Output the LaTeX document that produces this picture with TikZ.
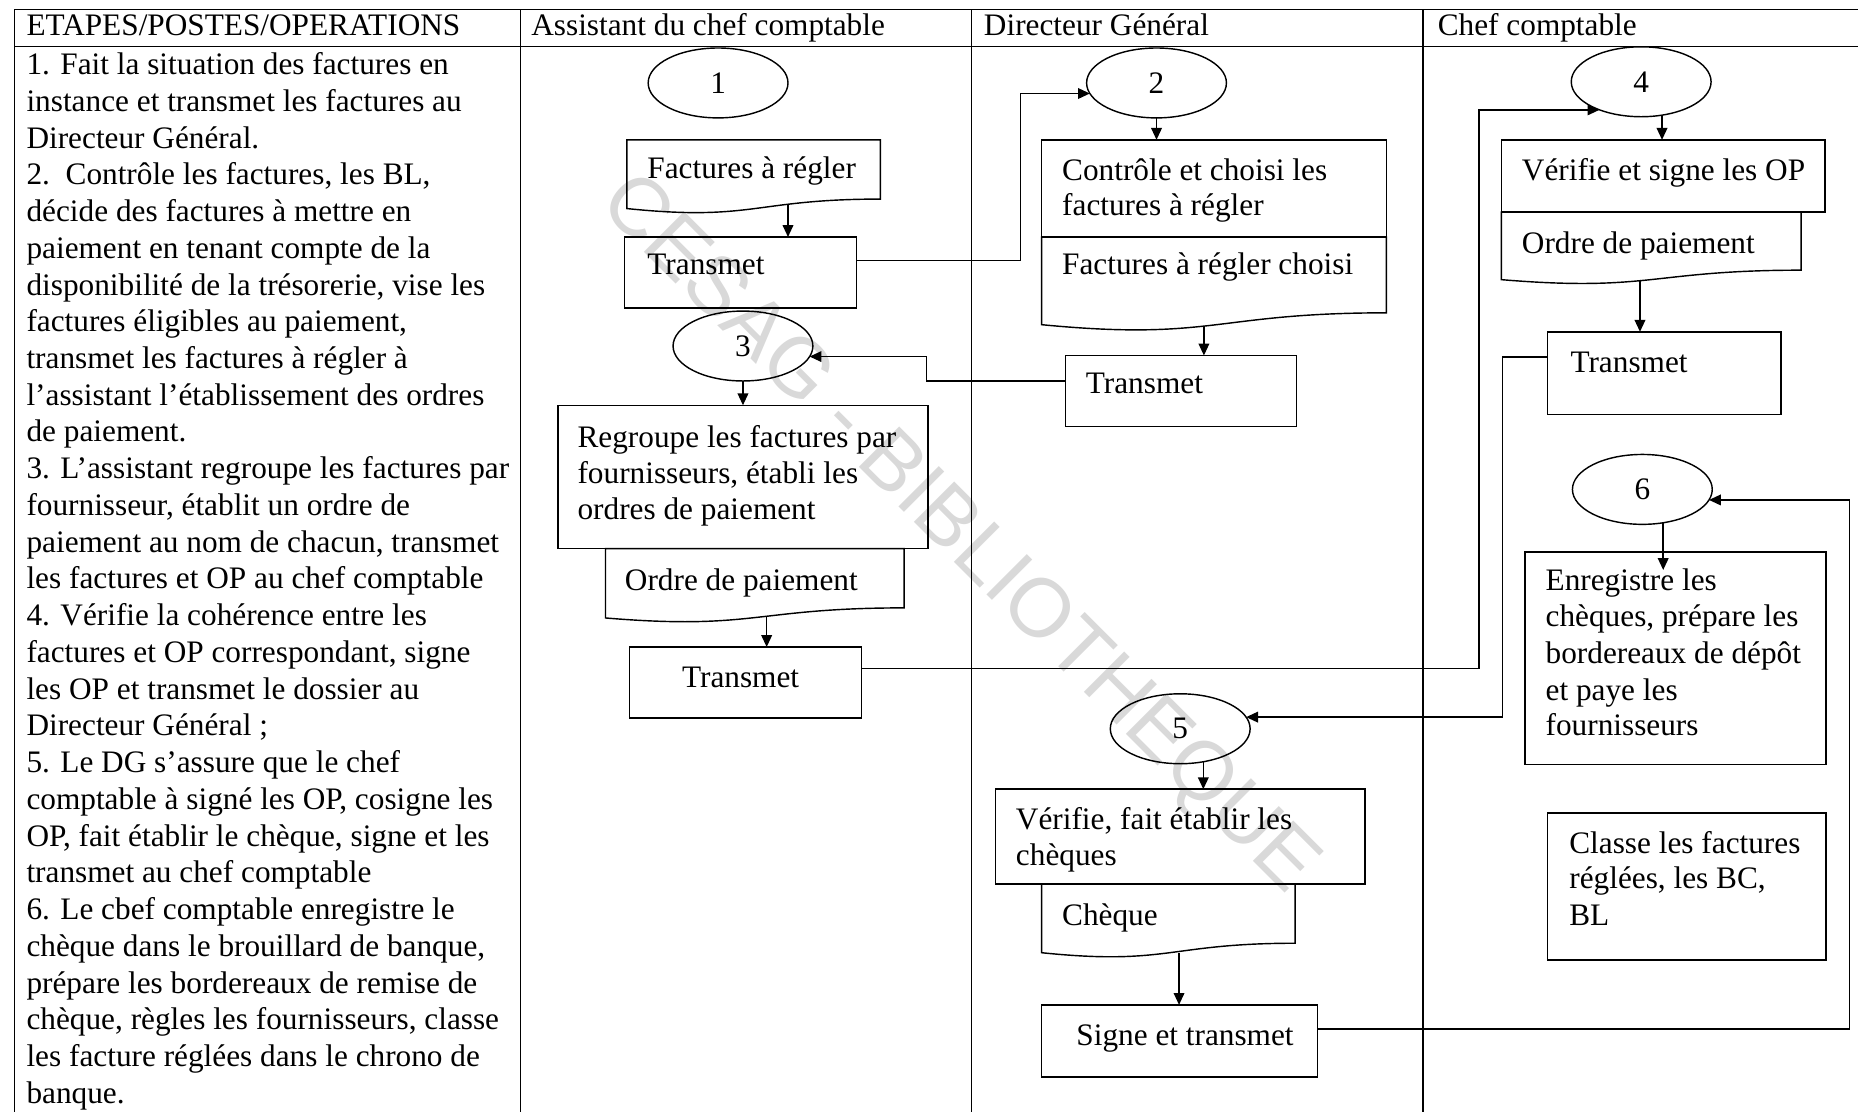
\documentclass[tikz,border=0pt]{standalone}
\usepackage{fontspec}
\setmainfont{Liberation Serif}
\setsansfont{Liberation Sans}
\usetikzlibrary{shapes.geometric,arrows.meta,fit}
\tikzset{
  line/.style={draw, line width=0.6pt},
  tbl/.style={draw, line width=0.55pt},
  boxn/.style={draw, line width=0.6pt, inner sep=0pt, outer sep=0pt},
  ell/.style={draw, ellipse, line width=0.6pt, minimum width=59pt, minimum height=29.5pt, inner sep=0pt, outer sep=0pt},
  arr/.style={draw, line width=0.6pt, -{Triangle[length=5pt,width=4.5pt]}},
  lbl/.style={anchor=base west, inner sep=0pt},
  wmark/.style={rotate=-45, text=black!15, font=\fontsize{35}{35}\selectfont\sffamily, inner sep=0pt}
}
\newcommand{\docshp}[7]{%
  \draw[line] (#2,#3) -- (#4,#3) -- (#4,#5) .. controls ({(#2+#4)/2},#5) and ({(#2+#4)/2},#7) .. (#2,#6) -- cycle;
  \node[fit={(#2,#3)(#4,#5)}, inner sep=0pt, outer sep=0pt] (#1) {};}
\begin{document}
\begin{tikzpicture}[x=0.5pt,y=-0.5pt,font=\fontsize{13.2}{15.6}\selectfont]
\useasboundingbox (0,0) rectangle (1568,938);
% watermark
\node[wmark] (wm) at (808,452) {CESAG - BIBLIOTHEQUE};
% table
\draw[tbl] (12,8) -- (1568,8);
\draw[tbl] (12,39) -- (1568,39);
\foreach \xx in {12,439,820,1201} \draw[tbl] (\xx,8) -- (\xx,938);
% headers
\node[lbl] (h1) at (22,30) {ETAPES/POSTES/OPERATIONS};
\node[lbl] (h2) at (448,30) {Assistant du chef comptable};
\node[lbl] (h3) at (830,30) {Directeur Général};
\node[lbl] (h4) at (1213,30) {Chef comptable};
% left column
\foreach \lintext [count=\i from 0] in {
 {1. Fait la situation des factures en},
 {instance et transmet les factures au},
 {Directeur Général.},
 {2.\ \ Contrôle les factures, les BL,},
 {décide des factures à mettre en},
 {paiement en tenant compte de la},
 {disponibilité de la trésorerie, vise les},
 {factures éligibles au paiement,},
 {transmet les factures à régler à},
 {l’assistant l’établissement des ordres},
 {de paiement.},
 {3. L’assistant regroupe les factures par},
 {fournisseur, établit un ordre de},
 {paiement au nom de chacun, transmet},
 {les factures et OP au chef comptable},
 {4. Vérifie la cohérence entre les},
 {factures et OP correspondant, signe},
 {les OP et transmet le dossier au},
 {Directeur Général ;},
 {5. Le DG s’assure que le chef},
 {comptable à signé les OP, cosigne les},
 {OP, fait établir le chèque, signe et les},
 {transmet au chef comptable},
 {6. Le cbef comptable enregistre le},
 {chèque dans le brouillard de banque,},
 {prépare les bordereaux de remise de},
 {chèque, règles les fournisseurs, classe},
 {les facture réglées dans le chrono de},
 {banque.}}
 \node[lbl] (L\i) at (22,{63+31.0*\i}) {\lintext};
% Assistant column
\node[ell] (e1) at (606,70) {1};
\docshp{d1}{529}{118}{743}{168}{176}{187}
\node[lbl] (t1) at (546,151) {Factures à régler};
\node[boxn, fit={(527,200)(723,260)}] (tr1) {};
\node[lbl] (t2) at (546,232) {Transmet};
\node[ell] (e3) at (627,292) {3};
\node[boxn, fit={(471,342)(783,463)}] (rg) {};
\node[lbl] (t3) at (487,378) {Regroupe les factures par};
\node[lbl] (t4) at (487,408) {fournisseurs, établi les};
\node[lbl] (t5) at (487,438) {ordres de paiement};
\docshp{d3}{511}{463}{763}{513}{521.5}{532}
\node[lbl] (t6) at (527,498) {Ordre de paiement};
\node[boxn, fit={(531,546)(727,606)}] (tr3) {};
\node[anchor=base, inner sep=0pt] (t7) at (625,580) {Transmet};
% Directeur General
\node[ell] (e2) at (976,70) {2};
\node[boxn, fit={(879,118)(1170,200)}] (ctl) {};
\node[lbl] (t8) at (896,152) {Contrôle et choisi les};
\node[lbl] (t9) at (896,182) {factures à régler};
\docshp{d2}{879}{200}{1170}{264}{274}{288}
\node[lbl] (t10) at (896,232) {Factures à régler choisi};
\node[boxn, fit={(899,300)(1094,360)}] (tr2) {};
\node[lbl] (t11) at (916,332) {Transmet};
\node[ell] (e5) at (996,615) {5};
\node[boxn, fit={(840,666)(1152,746)}] (vf) {};
\node[lbl] (t12) at (857,700) {Vérifie, fait établir les};
\node[lbl] (t13) at (857,730) {chèques};
\docshp{d5}{879}{746}{1093}{796}{804}{815}
\node[lbl] (t14) at (896,781) {Chèque};
\node[boxn, fit={(879,848)(1112,909)}] (sg) {};
\node[lbl] (t15) at (908,882) {Signe et transmet};
% Chef comptable
\node[ell] (e4) at (1385,69) {4};
\node[boxn, fit={(1267,118)(1540,179)}] (vs) {};
\node[lbl] (t16) at (1284,152) {Vérifie et signe les OP};
\docshp{d4}{1267}{179}{1520}{228}{236}{246.5}
\node[lbl] (t17) at (1284,214) {Ordre de paiement};
\node[boxn, fit={(1306,280)(1503,350)}] (tr4) {};
\node[lbl] (t18) at (1325,314) {Transmet};
\node[ell] (e6) at (1386,413) {6};
\node[boxn, fit={(1287,466)(1541,645)}] (enr) {};
\node[lbl] (t19) at (1304,498) {Enregistre les};
\node[lbl] (t20) at (1304,529) {chèques, prépare les};
\node[lbl] (t21) at (1304,560) {bordereaux de dépôt};
\node[lbl] (t22) at (1304,591) {et paye les};
\node[lbl] (t23) at (1304,621) {fournisseurs};
\node[boxn, fit={(1306,686)(1541,810)}] (cl) {};
\node[lbl] (t24) at (1324,720) {Classe les factures};
\node[lbl] (t25) at (1324,750) {réglées, les BC,};
\node[lbl] (t26) at (1324,781) {BL};
% waypoints
\coordinate (k1) at (861,0);
\coordinate (k2) at (782,0);
\coordinate (k3) at (1248,0);
\coordinate (k4) at (1268,0);
\coordinate (k5) at (1561,0);
% connectors
\draw[arr] (tr1.6) -- (tr1.6 -| k1) |- (e2.189);
\draw[arr] (tr2.175) -- (tr2.175 -| k2) |- (e3.-9);
\draw[arr] (tr3.7) -- (tr3.7 -| k3) |- (e4.214);
\draw[arr] (tr4.172) -- (tr4.172 -| k4) |- (e5.10);
\draw[arr] (sg.5) -- (sg.5 -| k5) |- (e6.-9);
% vertical arrows
\coordinate (d1o) at (665,173);
\draw[arr] (d1o) -- (d1o |- tr1.north);
\draw[arr] (e2.south) -- (e2.south |- ctl.north);
\coordinate (d2o) at (1016,275);
\draw[arr] (d2o) -- (d2o |- tr2.north);
\draw[arr] (e3.south) -- (e3.south |- rg.north);
\coordinate (d3o) at (647,521);
\draw[arr] (d3o) -- (d3o |- tr3.north);
\draw[arr] (e4.-58) -- (e4.-58 |- vs.north);
\coordinate (d4o) at (1384,236);
\draw[arr] (d4o) -- (d4o |- tr4.north);
\draw[arr] (e5.-55) -- (e5.-55 |- vf.north);
\coordinate (d5o) at (995,804);
\draw[arr] (d5o) -- (d5o |- sg.north);
\draw[arr, shorten >=-7.5pt] (e6.-58) -- (e6.-58 |- enr.north);
\end{tikzpicture}
\end{document}
